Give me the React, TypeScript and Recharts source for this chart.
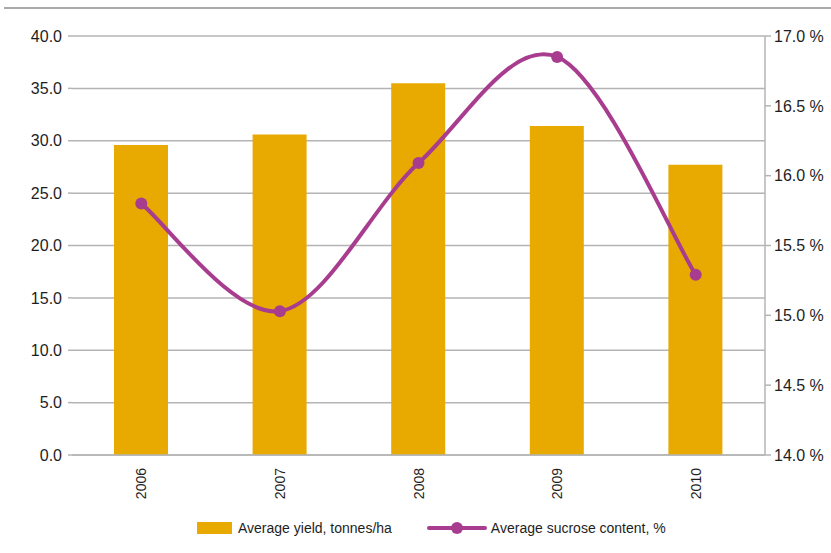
import React from 'react';
import {
  ComposedChart,
  Bar,
  Line,
  XAxis,
  YAxis,
  CartesianGrid,
  Legend,
} from 'recharts';

const years = ['2006', '2007', '2008', '2009', '2010'];
const avgYield = [29.6, 30.6, 35.5, 31.4, 27.7];
const avgSucrose = [15.8, 15.03, 16.09, 16.85, 15.29];
const yieldTicks = [0, 5, 10, 15, 20, 25, 30, 35, 40];
const sucroseTicks = [14, 14.5, 15, 15.5, 16, 16.5, 17];

const BAR_COLOR = '#e8aa00';
const LINE_COLOR = '#a83c8f';
const GRID_COLOR = '#b4b4b4';
const TEXT_COLOR = '#1e1e1e';
const FONT = '"Liberation Sans", Arial, sans-serif';

const chartData = years.map((year, i) => ({
  year,
  yield: avgYield[i],
  sucrose: avgSucrose[i],
}));

// Catmull-Rom style smoothing (spreadsheet "smoothed line"), written as a d3 curve factory
const smoothCurve = (context: any) => {
  let pts: number[][] = [];
  return {
    areaStart() {},
    areaEnd() {},
    lineStart() {
      pts = [];
    },
    point(x: number, y: number) {
      pts.push([+x, +y]);
    },
    lineEnd() {
      const n = pts.length;
      if (!n) return;
      context.moveTo(pts[0][0], pts[0][1]);
      for (let i = 0; i < n - 1; i++) {
        const p0 = pts[Math.max(i - 1, 0)];
        const p1 = pts[i];
        const p2 = pts[i + 1];
        const p3 = pts[Math.min(i + 2, n - 1)];
        context.bezierCurveTo(
          p1[0] + (p2[0] - p0[0]) / 6,
          p1[1] + (p2[1] - p0[1]) / 6,
          p2[0] - (p3[0] - p1[0]) / 6,
          p2[1] - (p3[1] - p1[1]) / 6,
          p2[0],
          p2[1],
        );
      }
    },
  };
};

const YearTick = (props: any) => {
  const { x, y, payload } = props;
  return (
    <text
      x={x}
      y={y + 5}
      transform={`rotate(-90, ${x}, ${y + 5})`}
      textAnchor="end"
      dominantBaseline="central"
      fontSize={14}
      fontFamily={FONT}
      fill={TEXT_COLOR}
    >
      {payload.value}
    </text>
  );
};

const LegendContent = () => (
  <div
    style={{
      display: 'flex',
      alignItems: 'center',
      fontFamily: FONT,
      fontSize: 14,
      color: TEXT_COLOR,
      paddingLeft: 197,
    }}
  >
    <span style={{ display: 'inline-block', width: 35, height: 12, background: BAR_COLOR }} />
    <span style={{ marginLeft: 6 }}>Average yield, tonnes/ha</span>
    <svg width={62} height={16} style={{ marginLeft: 34 }}>
      <line x1={3} y1={8} x2={59} y2={8} stroke={LINE_COLOR} strokeWidth={4} strokeLinecap="round" />
      <circle cx={31} cy={8} r={6} fill={LINE_COLOR} />
    </svg>
    <span style={{ marginLeft: 3 }}>Average sucrose content, %</span>
  </div>
);

export default function App() {
  return (
    <div style={{ position: 'absolute', left: 0, top: 0, width: 831, height: 553, background: '#fff' }}>
      <div
        style={{
          position: 'absolute',
          left: 4,
          right: 0,
          top: 7,
          height: 2,
          background: '#a9a9a9',
        }}
      />
      <ComposedChart
        width={831}
        height={553}
        data={chartData}
        margin={{ top: 36, right: 0, bottom: 32, left: 0 }}
        barSize={54}
      >
        <CartesianGrid yAxisId="left" vertical={false} stroke={GRID_COLOR} strokeWidth={1.5} />
        <XAxis
          dataKey="year"
          xAxisId={0}
          axisLine={{ stroke: GRID_COLOR, strokeWidth: 1.5 }}
          tickLine={false}
          tick={<YearTick />}
          height={50}
          interval={0}
        />
        <YAxis
          yAxisId="left"
          orientation="left"
          width={72}
          domain={[0, 40]}
          ticks={yieldTicks}
          tickFormatter={(v: number) => v.toFixed(1)}
          axisLine={false}
          tickLine={{ stroke: GRID_COLOR, strokeWidth: 1.5 }}
          tickSize={4}
          tickMargin={6}
          tick={{ fontSize: 16, fontFamily: FONT, fill: TEXT_COLOR }}
        />
        <YAxis
          yAxisId="right"
          orientation="right"
          width={66}
          domain={[14, 17]}
          ticks={sucroseTicks}
          tickFormatter={(v: number) => `${v.toFixed(1)} %`}
          axisLine={{ stroke: GRID_COLOR, strokeWidth: 1.5 }}
          tickLine={{ stroke: GRID_COLOR, strokeWidth: 1.5 }}
          tickSize={6}
          tickMargin={3}
          tick={{ fontSize: 16, fontFamily: FONT, fill: TEXT_COLOR }}
        />
        <Bar yAxisId="left" dataKey="yield" fill={BAR_COLOR} isAnimationActive={false} />
        <Line
          yAxisId="right"
          dataKey="sucrose"
          type={smoothCurve as any}
          stroke={LINE_COLOR}
          strokeWidth={4}
          dot={{ r: 6, fill: LINE_COLOR, stroke: LINE_COLOR, strokeWidth: 0 }}
          activeDot={false}
          isAnimationActive={false}
        />
        <Legend
          verticalAlign="bottom"
          content={<LegendContent />}
          wrapperStyle={{ top: 520, left: 0, width: 831 }}
        />
      </ComposedChart>
    </div>
  );
}
